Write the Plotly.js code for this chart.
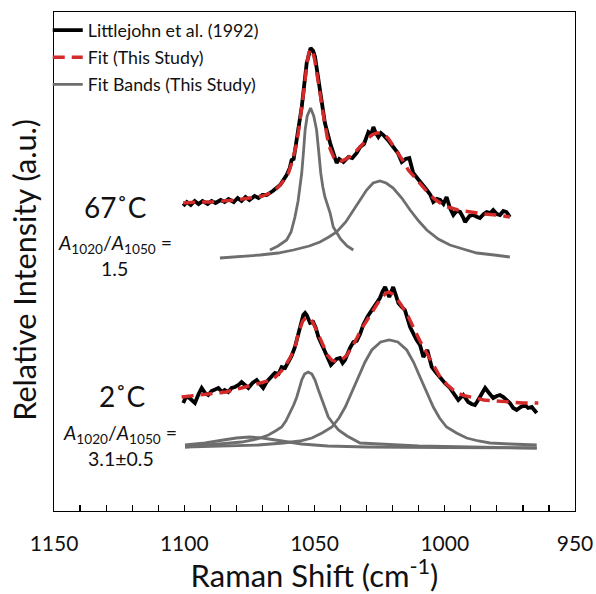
<!DOCTYPE html>
<html>
<head>
<meta charset="utf-8">
<script src="https://cdn.plot.ly/plotly-3.0.1.min.js"></script>
<style>html,body{margin:0;padding:0;background:#fff}#chart{width:596px;height:594px}</style>
</head>
<body>
<div id="chart"></div>
<script>
// ---- Data (x = Raman shift cm-1, y = relative intensity, a.u.) ----
// 67 °C : Littlejohn et al. (1992)
const hotObsX = [1100.4,1099,1097.5,1096,1094.5,1093,1091,1089.5,1088,1086,1084.5,1083,1081,1079.5,1078,1076.5,1075,1073,1071.5,1070,1068.4,1066,1063.2,1060.7,1059.5,1058.8,1058,1056.8,1054.9,1053,1052,1051.5,1050.5,1049.8,1047.9,1046,1044,1043,1041.5,1040.5,1038.9,1037,1035.5,1033.8,1032.5,1031,1029.3,1028.2,1027.4,1026.5,1025.5,1024.5,1023.6,1021.5,1019.8,1018,1016.5,1015,1013.6,1012.1,1010,1008,1006.9,1005.5,1004.4,1003,1001.8,1000.5,999.3,998,996.7,995.5,994.1,993,992.2,990.5,989,987.5,986.5,985,983.9,982.5,981.4,980,978.8,977.5,976.3,975];
const hotObsY = [305,309,306,310,307,310,307,310,308,311,309,312,309,313,310,314,311,315,313,316,316,320,326,336,343,351,352,371,404,448,460,463,460,454,421,388,368,360,348,352,349,354,353,358,364,367,379,377,384,378,374,378,376,370,364,358,349,352,353,338,331,325,321,316,309,312,311,307,314,303,296,300,299,294,289,295,296,294,293,297,299,298,301,297,296,300,299,294];
// 67 °C : Fit
const hotFitX = [1100.4,1095,1090,1085,1080,1075,1070,1067,1065,1062.5,1060,1058.5,1057,1056,1055,1054,1053,1052.2,1051.5,1050.7,1050,1049,1048,1047,1046,1045,1044,1042.5,1041,1039.5,1038,1036,1034,1032,1030,1028,1026,1024.5,1023,1021.5,1020,1018,1016,1014,1012,1010,1008,1006,1004,1002,1000,997.5,995,992.5,990,985,980,975];
const hotFitY = [308,309,309,310,311,313,315,318,321,328,338,350,366,382,400,422,445,458,462,459,452,437,420,402,385,372,362,353,350,350,352,355,360,366,371,376,378,378,376,372,366,359,350,341,335,328,322,317,312,308,305,303,301,300,299,297,296,294];
// 67 °C : Fit bands (1050 band, 1020 band)
const hotBandAX = [1067.1,1064,1060.7,1059,1057.5,1056.3,1055.6,1054.9,1054.2,1053.6,1052.8,1051.5,1050.3,1049.2,1048.4,1047.6,1046.8,1046,1044,1042.8,1040,1037.5,1035.1];
const hotBandAY = [261,265,271,279,294,310,324,338,360,381,395,403,395,381,360,338,324,314,298,284,272,265,261];
const hotBandBX = [1086.3,1080,1070.9,1064,1058.1,1052,1047.9,1044.5,1041.5,1038,1035.1,1032.5,1030,1027.5,1024.9,1022.5,1019.8,1016.5,1013.3,1010,1006.9,1002.5,998,993,987.7,981,975];
const hotBandBY = [253,254,256,258,261,265,269,274,279,289,301,312,321,328,330,328,323,313,301,290,281,272,266,262,258,256,254];

// 2 °C : Littlejohn et al. (1992)
const coldObsX = [1100.4,1099.5,1098.4,1097,1095.9,1094.5,1093.3,1092,1090.8,1089.5,1088,1086.9,1085.5,1084.5,1083.1,1081.8,1080.5,1079.2,1078,1076.6,1075.4,1073.8,1072.2,1071,1069.7,1068.4,1067,1065.2,1063.8,1062.6,1061.3,1060.1,1058.8,1057.5,1056.5,1055.6,1054.3,1053.6,1053,1051.7,1050.5,1049.5,1048.5,1046.6,1044.7,1043.7,1042.6,1041.5,1040.2,1039.2,1038.3,1037.6,1036.4,1035.1,1033.8,1032.5,1031.3,1029.5,1027.4,1026.2,1024.9,1023.8,1022.9,1021.3,1020.5,1019.8,1018.8,1017.8,1016.5,1015.3,1013.3,1012,1010.8,1009.5,1008.2,1006.7,1005,1003.5,1001.8,1000,998,996.5,994.8,992.9,991,989.7,988.4,987.4,986.5,985.5,984.5,983,981.4,980,978.8,977.5,976.3,975,973.7,972.4,970.8,969.2,968,966.6,964.7];
const coldObsY = [108,113,114,110,108,117,123,118,116,120,122,123,119,121,119,123,124,126,129,126,123,128,131,127,123,129,133,138,137,144,143,148,155,164,175,184,196,198,196,188,189,183,174,163,153,146,149,152,153,148,151,156,163,169,170,177,186,195,203,207,213,220,224,214,220,224,216,208,204,201,184,177,171,166,154,161,144,139,133,128,123,118,111,116,109,107,106,110,114,120,123,118,113,115,116,114,111,108,103,101,104,106,103,104,98];
// 2 °C : Fit
const coldFitX = [1101,1095,1090,1084,1078,1072,1068,1065,1062,1059.4,1057.5,1056.2,1054.5,1053,1051.5,1050.5,1048.5,1047.2,1045,1043.4,1041.5,1039.6,1037.5,1034.5,1032,1029.3,1027.4,1024.5,1022.5,1021.5,1020,1017.2,1014.5,1012.1,1009.5,1006.9,1004,1001.8,999,995.4,992,989,985,980,976.3,970,964.1];
const coldFitY = [114,116,117,119,123,127,130,134,142,153,163,178,190,194,192,188,176,168,156,151,149,151,156,169,182,193,201,213,218,219,217,208,197,184,170,158,145,134,126,118,115,113,111,110,109,108,108];
// 2 °C : Fit bands (1050 band, 1020 band, 1075 band)
const coldBandAX = [1099.7,1090,1078,1072,1067.7,1065,1062.6,1061,1059.4,1058,1056.8,1055.8,1054.9,1053.8,1052.4,1051,1049.8,1048.5,1047.2,1046,1044.7,1042.7,1040.8,1037.5,1034.5,1032.5,1025,1010,990,964.7];
const coldBandAY = [64,66,69,72,76,80,84,90,98,106,114,123,131,137,139,137,131,121,111,102,94,87,81,75,71,68,67,65,64,63];
const coldBandBX = [1099.7,1085,1071.6,1062,1055.6,1051,1047.1,1043.3,1040.6,1038.2,1035.6,1033.1,1030.6,1028,1024.6,1021.3,1018,1014.6,1012,1009.5,1007,1004.4,1002,999.3,995.5,991.6,987,982.6,975,964.7];
const coldBandBY = [64,65,66,68,70,73,78,84,93,104,119,134,149,161,169,171,169,161,149,134,119,104,93,84,78,73,70,68,67,66];
const coldBandCX = [1099.7,1092,1085,1080,1075,1070,1065,1060,1055,1045,1030,1000,964.7];
const coldBandCY = [66,68,71,73,74,73,71,69,67,65,64,63.5,63];

const xTickVals = [1150,1100,1050,1000,950];
const seriesNames = ['Littlejohn et al. (1992)','Fit (This Study)','Fit Bands (This Study)'];

// ---- Styling ----
const FONT = 'Lato, "Open Sans", sans-serif';
const obsLine = {color:'#000000', width:3.8};
const fitLine = {color:'#d42a2a', width:3.4, dash:'12px,7px'};
const bandLine = {color:'#6e6e6e', width:2.8};

function tr(x, y, kind, show){
  const line = kind===0?obsLine:(kind===1?fitLine:bandLine);
  return {x:x, y:y, type:'scatter', mode:'lines', line:line, name:seriesNames[kind],
          legendgroup:'g'+kind, showlegend:show, hoverinfo:'skip'};
}

const traces = [
  tr(hotObsX, hotObsY, 0, true),
  tr(coldObsX, coldObsY, 0, false),
  tr(hotFitX, hotFitY, 1, true),
  tr(coldFitX, coldFitY, 1, false),
  tr(hotBandAX, hotBandAY, 2, true),
  tr(hotBandBX, hotBandBY, 2, false),
  tr(coldBandAX, coldBandAY, 2, false),
  tr(coldBandBX, coldBandBY, 2, false),
  tr(coldBandCX, coldBandCY, 2, false)
];

const annFont = {family:FONT, color:'#111', size:19.5};
const bigFont = {family:FONT, color:'#111', size:28};
const layout = {
  width:596, height:594,
  margin:{l:54, r:21, t:12, b:83},
  paper_bgcolor:'#fff', plot_bgcolor:'#fff',
  font:{family:FONT, color:'#111'},
  showlegend:true,
  legend:{x:-0.012, y:1.0, xanchor:'left', yanchor:'top', bgcolor:'rgba(0,0,0,0)',
          font:{family:FONT, size:17.8, color:'#111'}, traceorder:'grouped', tracegroupgap:1},
  xaxis:{range:[1150,950], autorange:false, tickvals:xTickVals, ticks:'inside', ticklen:6, tickwidth:1.2,
         tickcolor:'#000', showline:true, linecolor:'#000', linewidth:1.3, mirror:true,
         showgrid:false, zeroline:false, tickfont:{family:FONT, size:21, color:'#111'},
         ticklabelstandoff:13,
         minor:{dtick:10, ticks:'inside', ticklen:6, tickwidth:1.2, tickcolor:'#000', showgrid:false},
         title:{text:'Raman Shift (cm<sup>-1</sup>)', font:{family:FONT, size:31, color:'#111'}, standoff:8}},
  yaxis:{range:[0,499], autorange:false, showticklabels:false, ticks:'', showgrid:false, zeroline:false,
         showline:true, linecolor:'#000', linewidth:1.3, mirror:true},
  annotations:[
    {xref:'paper', yref:'paper', x:-0.056, y:0.483, text:'Relative Intensity (a.u.)', textangle:-90, showarrow:false,
     font:{family:FONT, size:30.7, color:'#111'}, xanchor:'center', yanchor:'middle'},
    {xref:'paper', yref:'paper', x:0.119, y:0.609, text:'67˚C', showarrow:false, font:bigFont, xanchor:'center', yanchor:'middle'},
    {xref:'paper', yref:'paper', x:0.117, y:0.535, text:'<i>A</i><sub>1020</sub>/<i>A</i><sub>1050</sub> =', showarrow:false, font:annFont, xanchor:'center', yanchor:'middle'},
    {xref:'paper', yref:'paper', x:0.117, y:0.486, text:'1.5', showarrow:false, font:annFont, xanchor:'center', yanchor:'middle'},
    {xref:'paper', yref:'paper', x:0.131, y:0.230, text:'2˚C', showarrow:false, font:bigFont, xanchor:'center', yanchor:'middle'},
    {xref:'paper', yref:'paper', x:0.127, y:0.155, text:'<i>A</i><sub>1020</sub>/<i>A</i><sub>1050</sub> =', showarrow:false, font:annFont, xanchor:'center', yanchor:'middle'},
    {xref:'paper', yref:'paper', x:0.129, y:0.106, text:'3.1±0.5', showarrow:false, font:annFont, xanchor:'center', yanchor:'middle'}
  ]
};

Plotly.newPlot('chart', traces, layout, {displayModeBar:false, staticPlot:true});
</script>
</body>
</html>
